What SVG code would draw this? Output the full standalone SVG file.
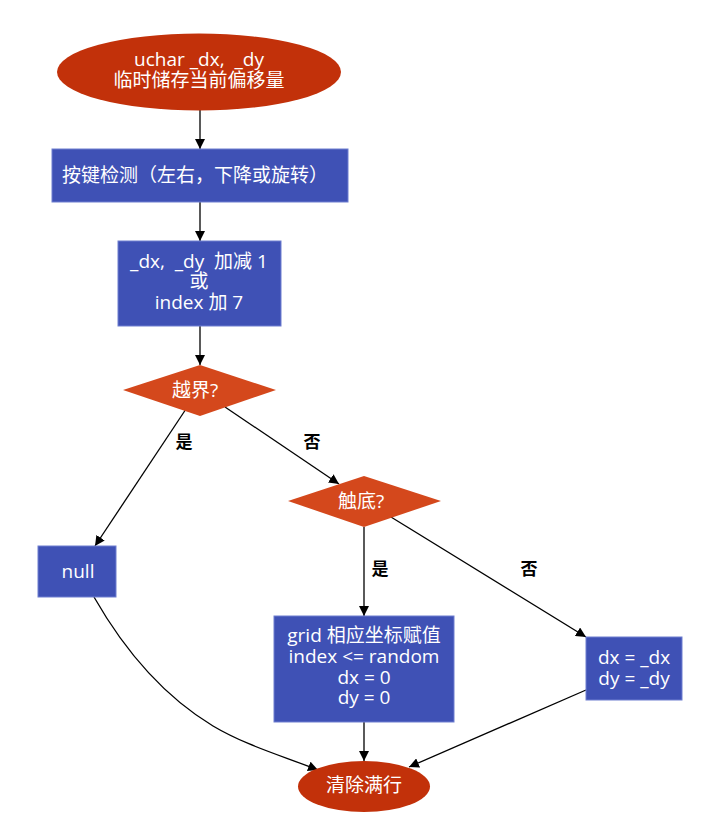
<svg xmlns="http://www.w3.org/2000/svg" width="720" height="831" viewBox="0 0 720 831">
  <style>
    .lbl { font-family: "Open Sans", "Noto Sans CJK SC", sans-serif; font-size: 19px; fill: #ffffff; text-anchor: middle; white-space: pre; }
    .edge-lbl { font-family: "Noto Sans CJK SC", "Open Sans", sans-serif; font-size: 17px; font-weight: bold; fill: #000000; text-anchor: middle; }
    .term { fill: #c2310a; }
    .proc { fill: #3f51b5; stroke: #6f7fd0; stroke-width: 1; }
    .dec { fill: #d4481c; }
    .edge { fill: none; stroke: #000000; stroke-width: 1.3; }
  </style>
  <defs>
    <marker id="arrow" viewBox="0 0 10 10" refX="10" refY="5" markerWidth="10" markerHeight="10" markerUnits="userSpaceOnUse" orient="auto">
      <path d="M0,0 L10,5 L0,10 z" fill="#000000"/>
    </marker>
  </defs>
  <rect width="720" height="831" fill="#ffffff"/>

  <g id="connectors">
    <path class="edge" d="M200,110 L200,149" marker-end="url(#arrow)"/>
    <path class="edge" d="M200,202 L200,241" marker-end="url(#arrow)"/>
    <path class="edge" d="M200,326 L200,365" marker-end="url(#arrow)"/>
    <path class="edge" d="M186,409 L95,546" marker-end="url(#arrow)"/>
    <path class="edge" d="M225,407 L339,484" marker-end="url(#arrow)"/>
    <path class="edge" d="M364,527 L364,616" marker-end="url(#arrow)"/>
    <path class="edge" d="M391,517 L586,637" marker-end="url(#arrow)"/>
    <path class="edge" d="M94,597 C130,660 170,700 213,726 C245,745 280,755 318,770" marker-end="url(#arrow)"/>
    <path class="edge" d="M364,722 L364,761" marker-end="url(#arrow)"/>
    <path class="edge" d="M586,690 L409,767" marker-end="url(#arrow)"/>
    <text class="edge-lbl" x="184" y="448">是</text>
    <text class="edge-lbl" x="312" y="448">否</text>
    <text class="edge-lbl" x="380" y="575">是</text>
    <text class="edge-lbl" x="529" y="575">否</text>
  </g>

  <g id="start">
    <ellipse class="term" cx="199" cy="72" rx="142" ry="38.5"/>
    <text class="lbl" x="199" y="66">uchar _dx,  _dy</text>
    <text class="lbl" x="199" y="87">临时储存当前偏移量</text>
  </g>

  <g id="key-detect">
    <rect class="proc" x="52" y="149" width="296" height="53"/>
    <text class="lbl" x="195" y="182">按键检测（左右，下降或旋转）</text>
  </g>

  <g id="adjust">
    <rect class="proc" x="118" y="241" width="163" height="85"/>
    <text class="lbl" x="199" y="268">_dx,  _dy  加减 1</text>
    <text class="lbl" x="199" y="288">或</text>
    <text class="lbl" x="199" y="309">index 加 7</text>
  </g>

  <g id="out-of-bounds">
    <polygon class="dec" points="200,365 276,390 200,416 123,390"/>
    <text class="lbl" x="195" y="397">越界?</text>
  </g>

  <g id="hit-bottom">
    <polygon class="dec" points="364,476 441,501 364,527 288,501"/>
    <text class="lbl" x="361" y="508">触底?</text>
  </g>

  <g id="null">
    <rect class="proc" x="38" y="546" width="78" height="51"/>
    <text class="lbl" x="78" y="578">null</text>
  </g>

  <g id="settle">
    <rect class="proc" x="274" y="616" width="180" height="106"/>
    <text class="lbl" x="364" y="642">grid 相应坐标赋值</text>
    <text class="lbl" x="364" y="663">index &lt;= random</text>
    <text class="lbl" x="364" y="684">dx = 0</text>
    <text class="lbl" x="364" y="704">dy = 0</text>
  </g>

  <g id="apply">
    <rect class="proc" x="586" y="637" width="96" height="63"/>
    <text class="lbl" x="634" y="664">dx = _dx</text>
    <text class="lbl" x="634" y="685">dy = _dy</text>
  </g>

  <g id="clear-rows">
    <ellipse class="term" cx="364" cy="786.5" rx="66" ry="25.5"/>
    <text class="lbl" x="364" y="792">清除满行</text>
  </g>
</svg>
